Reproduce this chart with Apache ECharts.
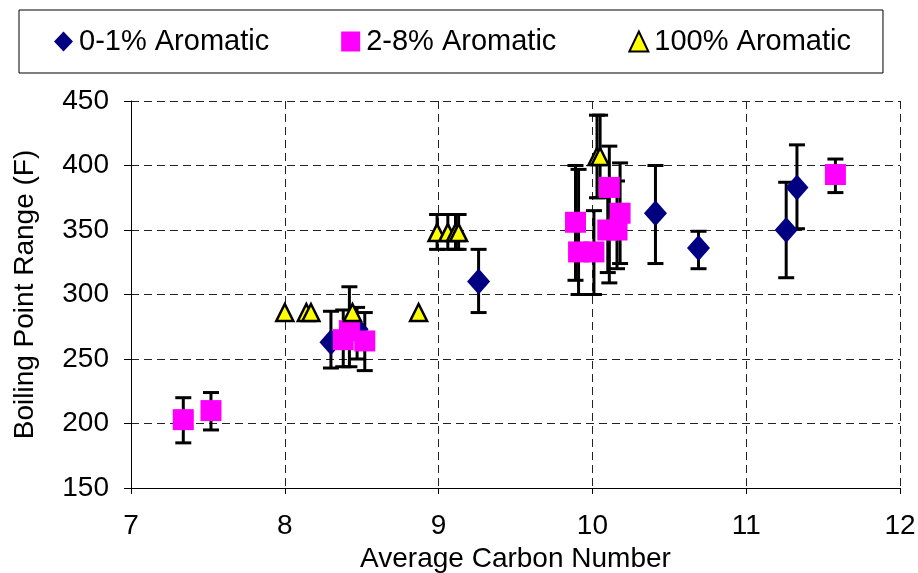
<!DOCTYPE html>
<html>
<head>
<meta charset="utf-8">
<script src="https://cdn.jsdelivr.net/npm/echarts@6/dist/echarts.min.js"></script>
<style>
  html, body { margin: 0; padding: 0; background: #fff; }
  #chart { width: 918px; height: 573px; }
</style>
</head>
<body>
<div id="chart"></div>
<script>
// 0-1% aromatic
const aliphaticX = [8.30, 8.47, 9.26, 10.41, 10.69, 11.26, 11.33];
const aliphaticY = [263, 273, 310, 363, 336, 350, 383];
const aliphaticLow = [243, 250, 286, 324, 320, 313, 351];
const aliphaticHigh = [287, 290, 335, 400, 349, 387, 416];

// 2-8% aromatic
const mixedX = [7.34, 7.52, 8.38, 8.42, 8.52, 9.89, 9.91, 10.01, 10.11, 10.10, 10.16, 10.18, 11.58];
const mixedY = [203, 210, 265, 272, 264, 356, 333, 333, 383, 350, 350, 363, 393];
const mixedLow = [185, 195, 244, 244, 241, 311, 300, 300, 309, 317, 320, 324, 379];
const mixedHigh = [220, 224, 288, 306, 286, 400, 397, 365, 415, 380, 388, 402, 405];

// 100% aromatic
const aromaticX = [8.00, 8.14, 8.17, 8.44, 8.87, 8.99, 9.06, 9.11, 9.13, 10.03, 10.05];
const aromaticY = [286, 286, 286, 286, 286, 348, 348, 348, 348, 407, 407];
const aromaticLow = [286, 286, 286, 286, 286, 335, 335, 335, 335, 375, 375];
const aromaticHigh = [286, 286, 286, 286, 286, 362, 362, 362, 362, 439, 439];

const seriesNames = ["0-1% Aromatic", "2-8% Aromatic", "100% Aromatic"];
const xTicks = [7, 12, 1];
const yTicks = [150, 450, 50];

const FONT = "Liberation Sans, Arial, sans-serif";

function points(xs, ys) {
  return xs.map((x, i) => [x, ys[i]]);
}
function bars(xs, lows, highs) {
  return xs.map((x, i) => [x, lows[i], highs[i]]);
}

function renderErrorBar(params, api) {
  let x = api.value(0);
  let lo = api.coord([x, api.value(1)]);
  let hi = api.coord([x, api.value(2)]);
  if (Math.abs(lo[1] - hi[1]) < 1) return null;
  let half = 8;
  let style = { stroke: "#000", lineWidth: 3 };
  return {
    type: "group",
    children: [
      { type: "line", shape: { x1: lo[0], y1: lo[1], x2: hi[0], y2: hi[1] }, style: style },
      { type: "line", shape: { x1: lo[0] - half, y1: lo[1], x2: lo[0] + half, y2: lo[1] }, style: style },
      { type: "line", shape: { x1: hi[0] - half, y1: hi[1], x2: hi[0] + half, y2: hi[1] }, style: style }
    ]
  };
}

function errorSeries(name, data) {
  return {
    name: name,
    type: "custom",
    renderItem: renderErrorBar,
    data: data,
    encode: { x: 0, y: [1, 2] },
    z: 1,
    silent: true
  };
}

let chart = echarts.init(document.getElementById("chart"));
chart.setOption({
  backgroundColor: "#fff",
  animation: false,
  textStyle: { fontFamily: FONT },
  legend: {
    data: seriesNames,
    left: 19,
    top: 10,
    padding: [17, 32, 17, 35],
    itemGap: 72,
    itemWidth: 19,
    itemHeight: 20,
    borderColor: "#000",
    borderWidth: 1,
    textStyle: { fontSize: 29, color: "#000", fontFamily: FONT, padding: [0, 0, 0, 1] }
  },
  grid: { left: 131, right: 18, top: 101, bottom: 85, outerBoundsMode: "none", containLabel: false },
  xAxis: {
    type: "value",
    min: xTicks[0],
    max: xTicks[1],
    interval: xTicks[2],
    name: "Average Carbon Number",
    nameLocation: "middle",
    nameGap: 55,
    nameTextStyle: { fontSize: 28, color: "#000", fontFamily: FONT },
    axisLine: { lineStyle: { color: "#000", width: 1 } },
    axisTick: { show: true, length: 6, lineStyle: { color: "#000" } },
    axisLabel: { fontSize: 28, color: "#000", margin: 24, fontFamily: FONT },
    splitLine: { lineStyle: { color: "#222", type: [8, 5], width: 1 } }
  },
  yAxis: {
    type: "value",
    min: yTicks[0],
    max: yTicks[1],
    interval: yTicks[2],
    name: "Boiling Point Range (F)",
    nameLocation: "middle",
    nameGap: 92,
    nameTextStyle: { fontSize: 28, color: "#000", fontFamily: FONT },
    axisLine: { show: true, lineStyle: { color: "#000", width: 1 } },
    axisTick: { show: true, length: 7, lineStyle: { color: "#000" } },
    axisLabel: { fontSize: 28, color: "#000", margin: 22, fontFamily: FONT },
    splitLine: { lineStyle: { color: "#222", type: [8, 5], width: 1 } }
  },
  series: [
    errorSeries("err0", bars(aliphaticX, aliphaticLow, aliphaticHigh)),
    errorSeries("err1", bars(mixedX, mixedLow, mixedHigh)),
    errorSeries("err2", bars(aromaticX, aromaticLow, aromaticHigh)),
    {
      name: seriesNames[0],
      type: "scatter",
      symbol: "diamond",
      symbolSize: [23, 26],
      itemStyle: { color: "#000080", opacity: 1 },
      data: points(aliphaticX, aliphaticY),
      z: 2
    },
    {
      name: seriesNames[1],
      type: "scatter",
      symbol: "rect",
      symbolSize: 21,
      itemStyle: { color: "#FF00FF", opacity: 1 },
      data: points(mixedX, mixedY),
      z: 3
    },
    {
      name: seriesNames[2],
      type: "scatter",
      symbol: "triangle",
      symbolSize: [17, 17],
      itemStyle: { color: "#FFFF00", borderColor: "#000", borderWidth: 2.5, opacity: 1 },
      data: points(aromaticX, aromaticY),
      z: 4
    }
  ]
});
</script>
</body>
</html>
